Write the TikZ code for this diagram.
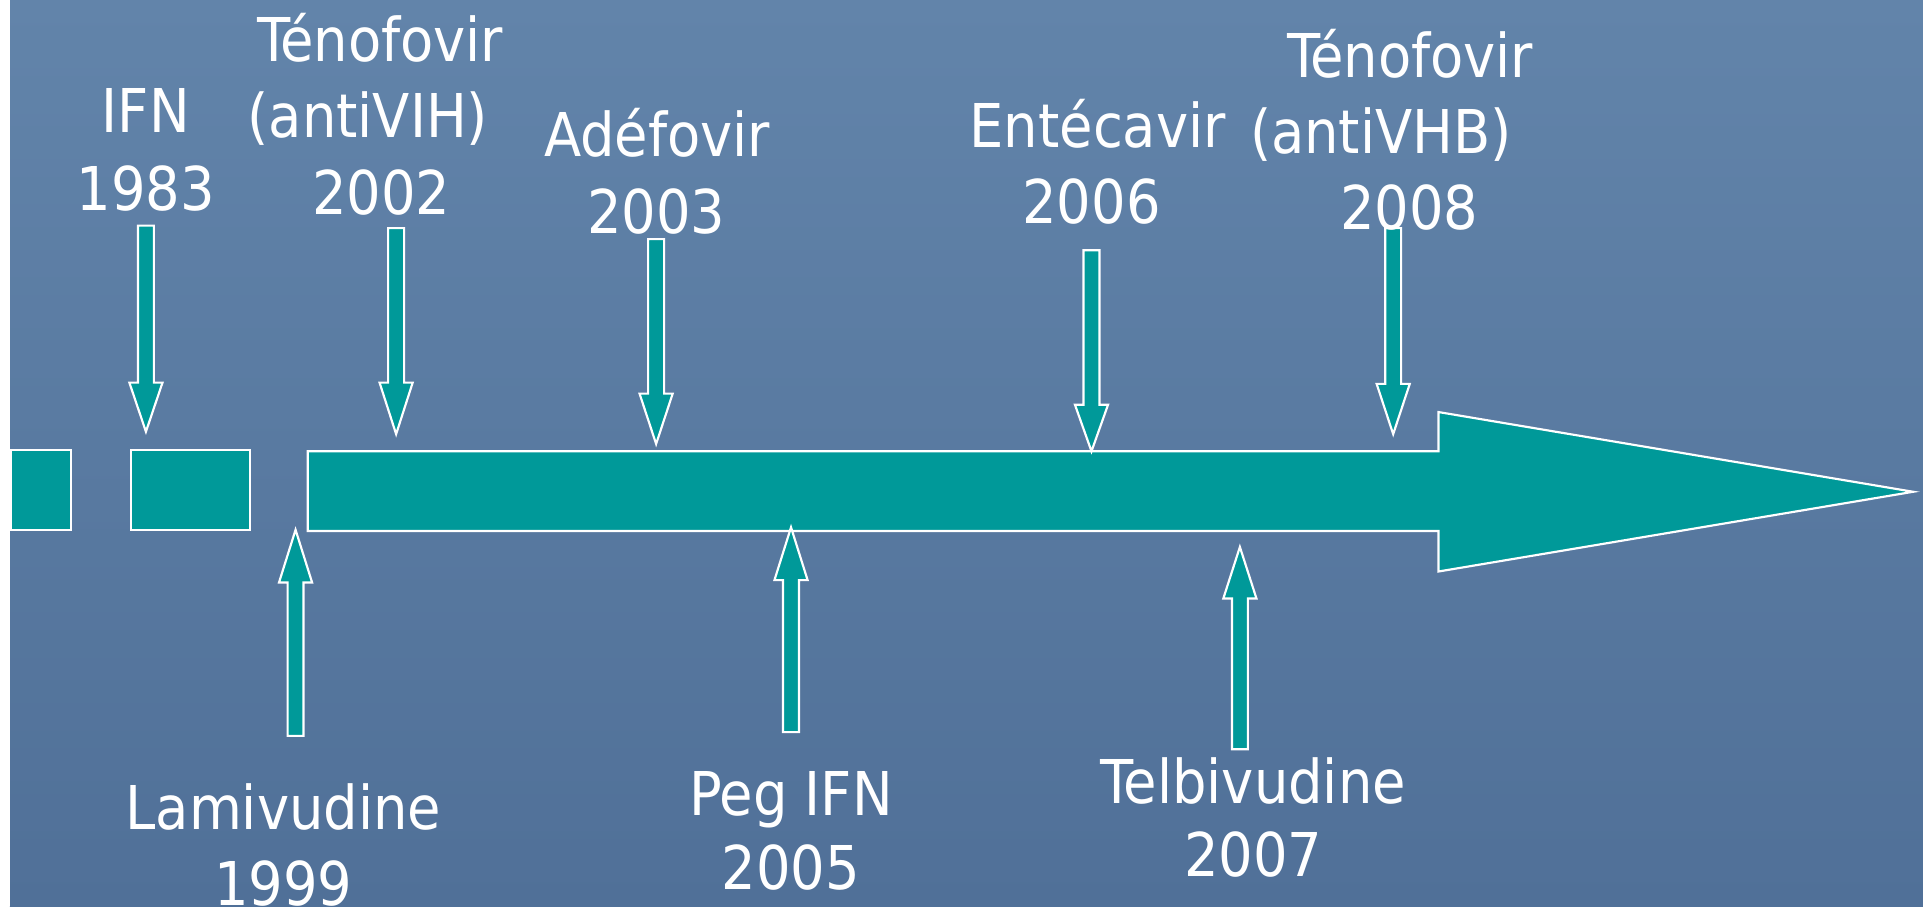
\documentclass[tikz,border=0pt]{standalone}
\usepackage{fontspec}
\setmainfont{DejaVu Sans Condensed}
\definecolor{teal1}{RGB}{0,153,153}
\definecolor{bgtop}{RGB}{98,132,170}
\definecolor{bgbot}{RGB}{80,112,152}
\tikzset{
  blk/.style={fill=teal1, draw=white, line width=0.5pt},
  lbl/.style={text=white, font=\fontsize{14}{17}\selectfont, inner sep=0pt, anchor=base},
}
\newcommand{\dnarrow}[4]{% x, top, headbase, tip (tikz y)
  \draw[blk] (#1-6.5,#2) -- (#1+6.5,#2) -- (#1+6.5,#3) -- (#1+13.5,#3) -- (#1,#4)
    -- (#1-13.5,#3) -- (#1-6.5,#3) -- cycle;}
\begin{document}
\begin{tikzpicture}[x=0.01cm,y=0.01cm]
\useasboundingbox (0,0) rectangle (1568,739);
\shade[top color=bgtop, bottom color=bgbot] (8,0) rectangle (1568,739);
\fill[white] (0,0) rectangle (8,739);
% timeline blocks
\node[blk, minimum width=49\pgflinewidth, inner sep=0pt, anchor=south west,
  minimum width=0.49cm, minimum height=0.65cm] (b1) at (8,306) {};
\node[blk, inner sep=0pt, anchor=south west, minimum width=0.97cm, minimum height=0.65cm] (b2) at (106,306) {};
\draw[blk] (251,306) -- (251,371) -- (1173,371) -- (1173,403) -- (1560,338)
  -- (1173,273) -- (1173,306) -- cycle;
\coordinate (tip) at (1560,338);
% down arrows
\dnarrow{119}{555}{427}{387}
\dnarrow{323}{553}{427}{385}
\dnarrow{535}{544}{418}{377}
\dnarrow{890}{535}{409}{371}
\dnarrow{1136}{553}{426}{385}
% up arrows
\dnarrow{241}{139}{264}{307}
\dnarrow{645}{142}{266}{309}
\dnarrow{1011}{128}{251}{293}
% labels top
\node[lbl] (ifn) at (119,631) {IFN};
\node[lbl] (y83) at (119,567) {1983};
\node[lbl] (ten1) at (310,689) {Ténofovir};
\node[lbl] (vih) at (300,627) {(antiVIH)};
\node[lbl] (y02) at (311,564) {2002};
\node[lbl] (ade) at (536,611) {Adéfovir};
\node[lbl] (y03) at (535,549) {2003};
\node[lbl] (ent) at (895,619) {Entécavir};
\node[lbl] (y06) at (890,557) {2006};
\node[lbl] (ten2) at (1150,676) {Ténofovir};
\node[lbl] (vhb) at (1126,614) {(antiVHB)};
\node[lbl] (y08) at (1149,552) {2008};
% labels bottom
\node[lbl] (lam) at (231,63) {Lamivudine};
\node[lbl] (y99) at (231,1) {1999};
\node[lbl] (peg) at (645,74) {Peg IFN};
\node[lbl] (y05) at (645,14) {2005};
\node[lbl] (tel) at (1022,84) {Telbivudine};
\node[lbl] (y07) at (1022,24) {2007};
\end{tikzpicture}
\end{document}
